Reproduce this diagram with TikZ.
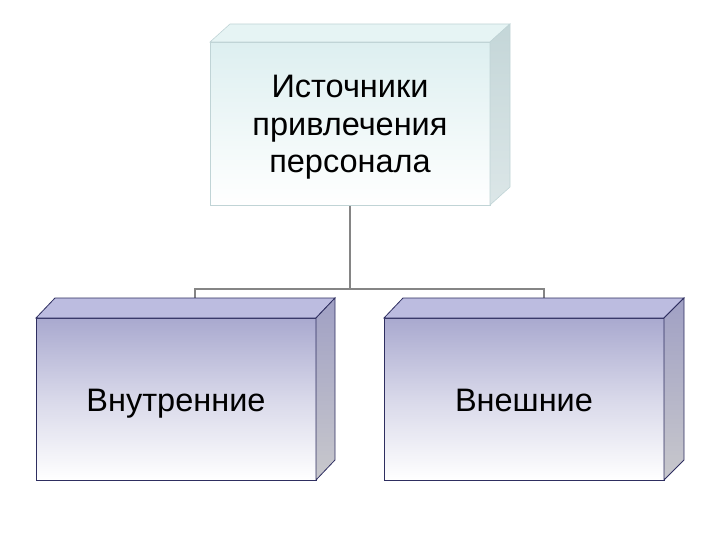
\documentclass[tikz,border=0pt]{standalone}
\usepackage{fontspec}
\setmainfont{Liberation Sans}
\definecolor{cyanTop}{HTML}{DDEFF0}
\definecolor{cyanLid}{HTML}{E6F4F4}
\definecolor{cyanSide}{HTML}{C4D6D8}
\definecolor{cyanEdge}{HTML}{C0D4D6}
\definecolor{lavTop}{HTML}{A9A9CF}
\definecolor{lavLid}{HTML}{BCBCE0}
\definecolor{lavSide}{HTML}{A0A0C4}
\definecolor{greySide}{HTML}{C8C8CC}
\definecolor{navyEdge}{HTML}{2E2E60}
\definecolor{connGrey}{HTML}{858585}
\begin{document}
\begin{tikzpicture}[x=1pt,y=-1pt,
  boxtext/.style={inner sep=0pt, align=center, text=black,
    font=\fontsize{32.5}{37.5}\selectfont},
  conn/.style={draw=connGrey, line width=2pt}]
\useasboundingbox (0,0) rectangle (720,540);

% connectors (behind boxes)
\coordinate (srcbot) at (350,205);
\coordinate (bus) at (350,289);
\coordinate (inback) at (195,298);
\coordinate (exback) at (544,298);
\draw[conn] (srcbot) -- (bus);
\draw[conn] (inback) -- (195,289) -- (544,289) -- (exback);

% ---------- top box ----------
\shade[top color=cyanTop, bottom color=white, draw=cyanEdge, line width=0.6pt]
  (210,42) rectangle (490,205);
\fill[cyanLid, draw=cyanEdge, line width=0.6pt] (210,42) -- (230,24) -- (510,24) -- (490,42) -- cycle;
\shade[top color=cyanSide, bottom color=cyanSide!60!white, draw=cyanEdge, line width=0.6pt]
  (490,42) -- (510,24) -- (510,187) -- (490,205) -- cycle;
\node[boxtext, anchor=base] (src) at (350,173) {Источники\\привлечения\\персонала};

% ---------- left box ----------
\shade[top color=lavTop, bottom color=white, middle color=lavTop!45!white]
  (36,318) rectangle (316,480);
\draw[navyEdge, line width=0.8pt] (36,318) rectangle (316,480);
\fill[lavLid, draw=navyEdge, line width=0.8pt] (36,318) -- (55,298) -- (335,298) -- (316,318) -- cycle;
\shade[top color=lavSide, bottom color=greySide, draw=navyEdge, line width=0.8pt]
  (316,318) -- (335,298) -- (335,460) -- (316,480) -- cycle;
\node[boxtext, anchor=base] (in) at (176,411) {Внутренние};

% ---------- right box ----------
\shade[top color=lavTop, bottom color=white, middle color=lavTop!45!white]
  (384,318) rectangle (664,480);
\draw[navyEdge, line width=0.8pt] (384,318) rectangle (664,480);
\fill[lavLid, draw=navyEdge, line width=0.8pt] (384,318) -- (403,298) -- (684,298) -- (664,318) -- cycle;
\shade[top color=lavSide, bottom color=greySide, draw=navyEdge, line width=0.8pt]
  (664,318) -- (684,298) -- (684,460) -- (664,480) -- cycle;
\node[boxtext, anchor=base] (ex) at (524,411) {Внешние};
\end{tikzpicture}
\end{document}
